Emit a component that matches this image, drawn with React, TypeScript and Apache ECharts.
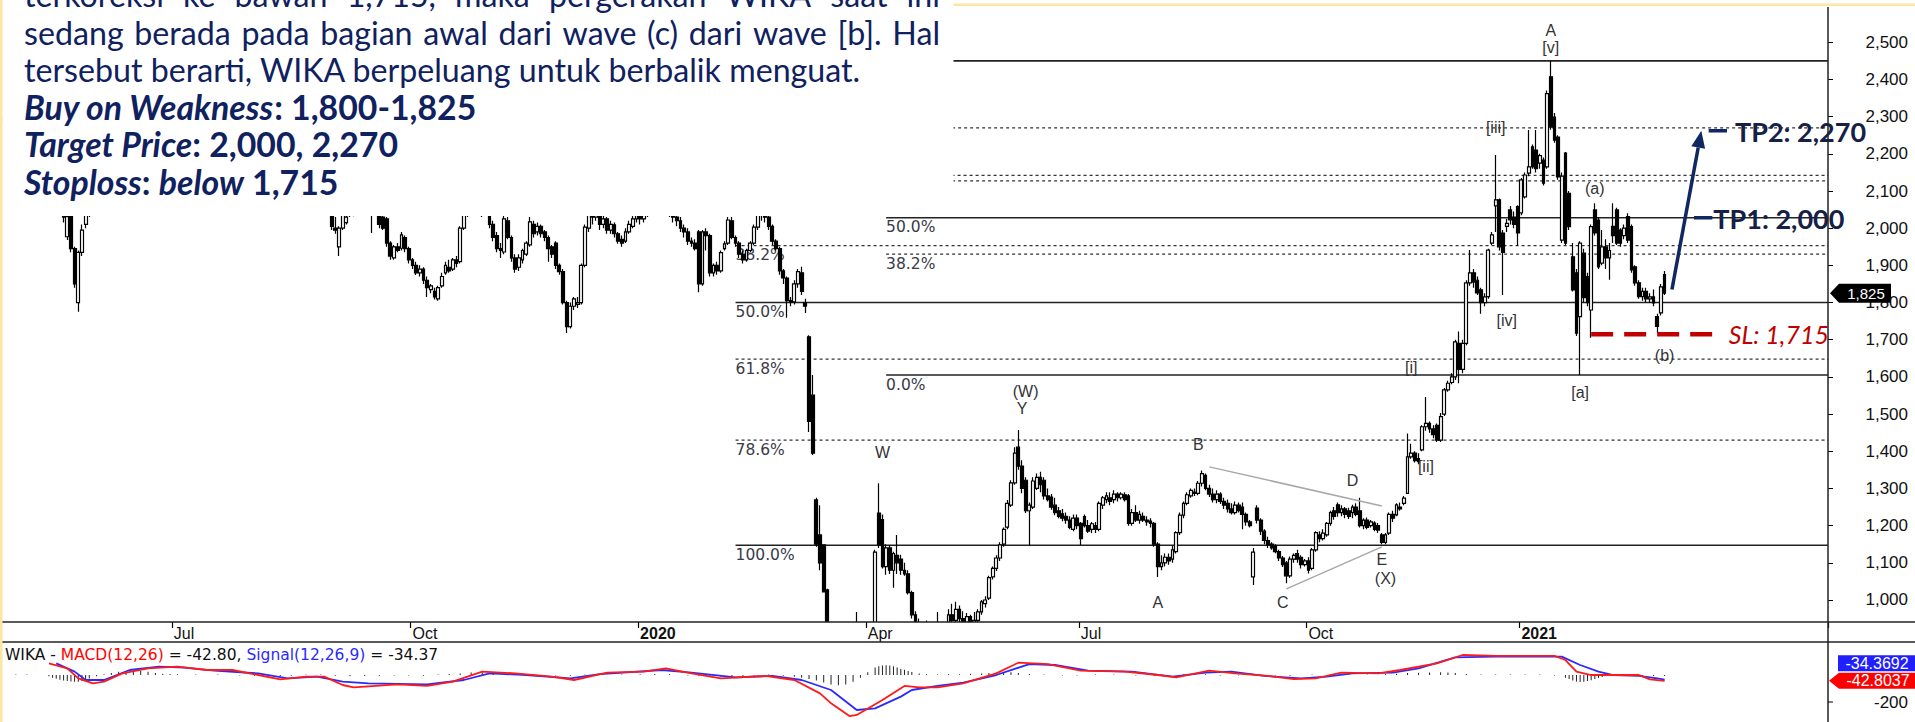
import React, { useEffect, useRef } from 'react';
import * as echarts from 'echarts';

// ---------------- calendar (trading days per month) ----------------
const monthTradingDays: [string, number][] = [
  ['2019-04', 10], ['2019-05', 21], ['2019-06', 15], ['2019-07', 23], ['2019-08', 21], ['2019-09', 21],
  ['2019-10', 23], ['2019-11', 21], ['2019-12', 18], ['2020-01', 21], ['2020-02', 20], ['2020-03', 21],
  ['2020-04', 21], ['2020-05', 15], ['2020-06', 22], ['2020-07', 22], ['2020-08', 19], ['2020-09', 21],
  ['2020-10', 20], ['2020-11', 21], ['2020-12', 17], ['2021-01', 20], ['2021-02', 19], ['2021-03', 1],
];
const futureSlots = 44;

// ---------------- daily candles [open, close, low, high] ----------------
const candlesAprJun2019 = [
  [2300,2280,2260,2320],[2280,2250,2230,2290],[2250,2270,2240,2290],[2270,2230,2210,2280],[2230,2200,2180,2240],
  [2200,2220,2190,2240],[2220,2180,2160,2230],[2180,2150,2130,2190],[2150,2170,2140,2190],[2170,2130,2110,2180],
  [2130,2100,2080,2140],[2100,2120,2090,2140],[2120,2090,2070,2130],[2090,2070,2050,2100],[2070,2085,2055,2095],
  [2080,2045,2035,2090],[2045,2030,2015,2060],[1977,2031,1968,2040],[2040,1945,1935,2050],[1945,1850,1840,1950],
  [1800,1935,1775,1940],[1935,1995,1925,2010],[2010,2035,2000,2050],[2040,2060,2030,2080],
  [2060,2090,2050,2100],[2090,2120,2080,2130],[2120,2110,2095,2140],[2110,2150,2100,2160],[2150,2180,2140,2190],
  [2180,2160,2150,2200],[2160,2200,2150,2210],[2200,2230,2190,2240],[2230,2210,2200,2250],[2210,2250,2200,2260],
  [2250,2280,2240,2290],[2280,2260,2250,2300],[2260,2300,2250,2310],[2300,2330,2290,2340],[2330,2310,2300,2350],
  [2310,2340,2300,2360],[2340,2370,2330,2380],[2370,2350,2340,2390],[2350,2380,2340,2400],[2380,2360,2350,2400],
  [2360,2390,2350,2410],[2390,2400,2380,2420],
];
const candlesJulSep2019 = [
  [2400,2420,2390,2440],[2420,2440,2410,2450],[2440,2410,2400,2450],[2410,2380,2370,2420],[2380,2400,2370,2420],
  [2400,2360,2350,2410],[2360,2330,2320,2370],[2330,2350,2320,2360],[2350,2320,2300,2360],[2320,2290,2280,2330],
  [2290,2300,2280,2320],[2300,2270,2260,2310],[2270,2240,2230,2280],[2240,2260,2230,2270],[2260,2230,2220,2270],
  [2230,2200,2190,2240],[2200,2220,2190,2230],[2220,2190,2180,2230],[2190,2160,2150,2200],[2160,2180,2150,2190],
  [2180,2200,2170,2210],[2200,2180,2170,2210],[2180,2210,2170,2220],[2210,2190,2180,2220],[2190,2160,2150,2200],
  [2160,2140,2130,2170],[2140,2150,2130,2160],[2150,2120,2110,2160],[2120,2100,2090,2130],[2100,2110,2090,2120],
  [2110,2090,2080,2120],[2090,2070,2060,2100],[2070,2080,2060,2090],[2080,2060,2050,2090],[2060,2070,2050,2080],
  [2070,2050,2045,2080],[2050,2060,2045,2070],[2060,2055,2045,2070],[2055,2065,2050,2075],[2065,2060,2050,2080],
  [2060,2070,2055,2080],[2070,2060,2050,2080],[2060,2050,2040,2070],[2050,2005,1995,2060],[2000,1995,1985,2030],
  [1950,2000,1925,2005],[2000,2040,1995,2050],[2015,2030,2010,2045],[2040,2060,2030,2070],[2050,2040,2032,2060],
  [2045,2070,2040,2080],[2070,2090,2060,2100],[2090,2080,2070,2100],[2080,2060,2050,2090],[2060,2040,1987,2070],
  [2045,2050,2035,2060],[2045,2010,2000,2050],[2030,2000,1995,2040],[2025,1960,1950,2030],[1960,1925,1915,1965],
  [1920,1950,1915,1955],[1950,1940,1935,1960],[1946,1982,1940,1990],[1975,1945,1935,1980],[1945,1915,1905,1950],
];
const candlesOctDec2019 = [
  [1915,1900,1890,1920],[1900,1880,1874,1910],[1880,1890,1870,1900],[1890,1860,1850,1895],[1860,1840,1815,1870],
  [1835,1845,1825,1850],[1830,1815,1808,1840],[1810,1840,1805,1845],[1845,1870,1840,1880],[1880,1900,1875,1910],
  [1895,1885,1880,1915],[1890,1915,1885,1920],[1915,1905,1895,1925],[1910,2000,1905,2005],[2000,2040,1995,2050],
  [2040,2070,2030,2080],[2070,2060,2040,2090],[2060,2090,2050,2100],[2090,2080,2070,2100],[2080,2045,2030,2090],
  [2050,2070,2040,2080],[2060,2010,2000,2070],[2010,1975,1965,2020],[1980,1945,1935,1990],[1945,1940,1920,1960],
  [1936,2025,1930,2035],[2020,1975,1970,2030],[1975,1920,1910,1980],[1920,1890,1880,1930],[1895,1920,1885,1930],
  [1915,1940,1905,1945],[1930,1960,1925,1965],[1955,2017,1950,2030],[2010,1985,1975,2020],[1990,2005,1980,2015],
  [2005,1985,1975,2010],[1990,1975,1965,1995],[1975,1945,1910,1980],[1950,1930,1920,1955],[1960,1900,1890,1965],
  [1900,1883,1875,1905],[1883,1800,1795,1890],[1800,1735,1718,1805],[1735,1790,1730,1800],[1790,1810,1780,1815],
  [1795,1800,1785,1815],[1800,1900,1795,1905],[1900,2003,1895,2010],[2000,2040,1990,2055],[2040,2030,2010,2050],
  [2030,2050,2020,2060],[2040,2010,1995,2050],[2010,2025,2000,2035],[2025,1995,1985,2030],[1995,2010,1985,2020],
  [2009,1985,1975,2015],[1985,1965,1958,1990],[1970,1960,1950,1980],[1965,1990,1960,2000],[1990,2010,1985,2020],
  [2005,2025,2000,2035],[2025,2040,2015,2050],
];
const candlesJanMar2020 = [
  [2040,2025,2010,2050],[2025,2040,2015,2055],[2040,2060,2030,2070],[2060,2050,2040,2080],[2050,2070,2045,2090],
  [2070,2080,2060,2100],[2080,2060,2050,2090],[2060,2050,2040,2070],[2050,2040,2030,2060],[2040,2030,2015,2050],
  [2030,2020,2005,2040],[2020,2000,1990,2030],[2000,1990,1975,2010],[1990,1965,1955,2000],[1965,1960,1950,1975],
  [1960,1945,1940,1970],[1990,1850,1828,1995],[1850,1990,1845,1995],[1990,1980,1940,2000],[1980,1880,1870,1985],
  [1880,1900,1870,1905],[1900,1885,1875,1910],[1885,1934,1880,1940],[1945,1958,1940,1965],[1960,2022,1955,2030],
  [2020,1975,1970,2030],[1975,1960,1950,1980],[1960,1930,1920,1965],[1930,1915,1905,1940],[1915,1940,1910,1945],
  [1940,1960,1935,1965],[1960,2003,1955,2010],[2003,2035,1995,2045],[2035,2040,2020,2050],[2040,2030,2015,2050],
  [2030,2005,1995,2035],[2005,1965,1955,2010],[1965,1945,1940,1970],[1945,1885,1875,1950],[1885,1866,1850,1890],
  [1866,1805,1759,1870],[1805,1802,1790,1815],[1802,1850,1795,1860],[1850,1883,1840,1890],[1880,1830,1820,1896],
  [1800,1790,1772,1810],[1708,1480,1452,1712],[1551,1395,1390,1605],[1269,1150,1143,1275],[1175,1100,1080,1255],
  [1148,1022,1020,1150],[1027,935,900,1030],[930,870,850,940],[870,800,780,900],[800,760,740,820],
  [760,720,700,790],[720,700,690,760],[700,740,690,760],[740,780,730,800],[780,760,740,968],
  [760,800,750,820],[800,830,790,850],
];
const candlesAprJun2020 = [
  [830,860,800,870],[860,900,850,930],[900,1129,890,1135],[1234,1148,1140,1314],[1216,1090,1085,1230],
  [1090,1140,1068,1150],[1140,1080,1070,1148],[1080,1125,1033,1130],[1120,1100,1070,1175],[1110,1080,1068,1122],
  [1080,1070,1065,1100],[1070,1020,1015,1080],[1020,960,950,1025],[960,930,920,970],[930,900,880,950],
  [900,920,890,940],[920,895,880,945],[895,880,860,915],[880,900,870,920],[900,920,890,968],
  [920,900,880,930],[900,910,880,935],[910,960,900,975],[960,945,935,990],[945,975,940,995],
  [975,950,940,985],[950,940,930,970],[940,955,925,965],[955,930,915,960],[930,945,920,968],
  [945,968,940,975],[968,995,960,1000],[990,1000,980,1010],[1005,1060,1000,1065],[1062,1085,1055,1090],
  [1085,1113,1078,1120],[1113,1148,1105,1155],[1150,1190,1143,1195],[1196,1260,1190,1269],[1255,1315,1250,1322],
  [1315,1395,1310,1411],[1411,1360,1350,1457],[1360,1300,1287,1376],[1322,1240,1234,1330],[1240,1255,1148,1262],
  [1250,1320,1245,1330],[1300,1330,1296,1340],[1330,1310,1290,1345],[1322,1280,1270,1330],[1280,1270,1265,1300],
  [1277,1250,1243,1285],[1255,1235,1228,1275],[1240,1225,1220,1250],[1232,1220,1212,1245],[1225,1215,1205,1235],
  [1215,1195,1190,1225],[1190,1220,1185,1230],[1220,1200,1190,1230],
];
const candlesJulSep2020 = [
  [1206,1165,1148,1210],[1224,1200,1195,1230],[1200,1185,1180,1215],[1190,1205,1180,1210],[1200,1190,1180,1210],
  [1190,1260,1185,1265],[1255,1275,1245,1280],[1270,1280,1260,1290],[1275,1265,1255,1290],[1270,1285,1260,1295],
  [1285,1275,1265,1290],[1275,1285,1270,1290],[1283,1270,1265,1290],[1280,1206,1200,1285],[1206,1235,1200,1245],
  [1235,1215,1210,1255],[1215,1230,1205,1240],[1225,1215,1210,1235],[1215,1210,1200,1225],[1212,1206,1195,1220],
  [1206,1150,1143,1210],[1150,1090,1062,1155],[1090,1100,1080,1120],[1100,1115,1090,1125],[1115,1105,1095,1125],
  [1110,1135,1100,1145],[1130,1181,1125,1185],[1181,1228,1175,1235],[1228,1260,1220,1265],[1260,1283,1255,1290],
  [1280,1295,1275,1300],[1290,1287,1280,1300],[1287,1314,1282,1320],[1314,1340,1305,1348],[1335,1300,1295,1340],
  [1300,1285,1277,1310],[1285,1270,1262,1300],[1270,1285,1260,1295],[1285,1265,1258,1290],[1265,1255,1245,1275],
  [1260,1245,1235,1270],[1245,1235,1230,1260],[1235,1255,1230,1265],[1255,1240,1235,1262],[1250,1230,1190,1262],
  [1230,1210,1200,1235],[1210,1200,1195,1215],[1062,1129,1040,1140],[1247,1215,1206,1255],[1215,1185,1175,1220],
  [1185,1160,1150,1190],[1160,1148,1140,1170],[1150,1140,1135,1155],[1145,1130,1126,1150],[1130,1113,1105,1135],
  [1113,1095,1089,1118],[1100,1065,1045,1105],[1065,1110,1060,1117],[1110,1120,1100,1125],[1125,1110,1100,1135],
  [1115,1095,1085,1120],[1095,1105,1090,1110],
];
const candlesOctDec2020 = [
  [1105,1080,1071,1115],[1085,1135,1080,1140],[1135,1181,1130,1185],[1175,1165,1155,1185],[1165,1180,1160,1190],
  [1175,1206,1170,1210],[1206,1235,1200,1240],[1240,1225,1216,1250],[1256,1235,1224,1262],[1235,1245,1225,1255],
  [1245,1230,1220,1250],[1240,1225,1218,1248],[1235,1250,1220,1256],[1250,1230,1225,1260],[1240,1200,1195,1275],
  [1200,1215,1190,1220],[1215,1195,1190,1222],[1200,1210,1195,1215],[1207,1190,1185,1212],[1200,1188,1180,1207],
  [1175,1155,1150,1180],[1155,1175,1150,1180],[1180,1230,1175,1235],[1230,1220,1210,1240],[1229,1256,1225,1260],
  [1250,1245,1240,1262],[1260,1274,1255,1280],[1287,1385,1285,1448],[1385,1395,1380,1420],[1395,1375,1370,1400],
  [1380,1372,1365,1395],[1404,1466,1400,1470],[1466,1475,1455,1546],[1475,1460,1450,1480],[1460,1445,1435,1470],
  [1470,1430,1425,1475],[1430,1493,1425,1503],[1500,1565,1495,1570],[1565,1583,1560,1590],[1585,1600,1580,1610],
  [1600,1694,1592,1700],[1690,1620,1583,1722],[1620,1690,1610,1700],[1690,1853,1685,1860],[1853,1880,1845,1941],
  [1880,1855,1840,1890],[1860,1826,1820,1870],[1834,1800,1770,1840],[1800,1815,1790,1825],[1816,1941,1810,1945],
  [1960,1982,1955,1990],[2060,2076,1990,2197],[2076,1950,1940,2080],[1987,1935,1820,1995],[2005,2013,1990,2025],
  [2049,2022,2010,2060],[2030,2010,2000,2045],[2058,1987,1953,2062],
];
const candlesJanMar2021 = [
  [2041,2130,2035,2135],[2084,2143,2080,2150],[2148,2165,2140,2264],[2219,2165,2160,2225],[2210,2160,2150,2264],
  [2175,2195,2160,2200],[2183,2121,2115,2190],[2165,2362,2160,2370],[2407,2272,2265,2450],[2299,2237,2230,2310],
  [2245,2138,2130,2250],[1968,2140,1960,2150],[2202,1960,1955,2205],[2094,2004,1995,2100],[1923,1834,1830,1960],
  [1880,1718,1710,1890],[1762,1960,1605,1965],[1933,1813,1800,1945],[1870,1800,1790,1880],[1780,2004,1705,2010],
  [2049,1987,1980,2067],[2022,1896,1890,2030],[1906,1950,1900,1995],[1950,1920,1890,1970],[1920,1940,1861,1960],
  [2005,1980,1960,2067],[2049,1960,1955,2055],[1995,1960,1950,2000],[1980,2000,1970,2010],[2031,1968,1960,2040],
  [2004,1888,1880,2010],[1896,1853,1845,1900],[1853,1816,1810,1860],[1816,1830,1805,1840],[1830,1810,1800,1840],
  [1810,1815,1800,1825],[1815,1799,1790,1835],[1762,1736,1718,1770],[1772,1842,1765,1850],[1875,1825,1820,1885],
];

// ---------------- MACD (day index, value) ----------------
const macdLine: [number, number][] = [
  [12,86],[17,49],[20,-25],[24,-62],[27,-49],[32,12],[39,49],[47,62],[55,37],[62,37],[69,0],[75,-32],[82,-12],
  [87,-12],[92,-74],[95,-91],[107,-69],[115,-81],[122,-49],[130,25],[139,12],[149,-12],[155,-37],[164,17],
  [174,25],[180,49],[187,12],[195,-25],[207,-7],[215,-37],[222,-136],[225,-210],[230,-304],[232,-296],
  [239,-185],[245,-81],[249,-91],[254,-91],[261,-62],[270,12],[276,91],[284,81],[293,32],[305,25],[314,0],
  [319,-17],[328,32],[335,12],[344,-7],[351,-30],[357,-25],[364,17],[374,12],[380,37],[390,86],[397,148],
  [406,141],[422,141],[425,111],[428,25],[432,0],[438,0],[445,0],[448,-32],[452,-43],
];
const signalLine: [number, number][] = [
  [14,86],[19,25],[22,-37],[27,-37],[34,37],[42,62],[49,54],[57,32],[69,12],[77,-25],[85,-12],[92,-49],
  [99,-62],[115,-69],[125,-37],[132,12],[142,0],[154,-25],[162,7],[179,37],[187,17],[199,-17],[209,-7],
  [217,-37],[225,-111],[232,-259],[237,-247],[244,-160],[247,-111],[254,-81],[261,-57],[270,0],[279,81],
  [286,74],[295,32],[307,25],[318,-12],[327,17],[334,25],[343,-7],[353,-25],[360,-12],[367,12],[378,17],
  [385,49],[395,131],[406,136],[424,136],[429,74],[434,25],[438,0],[445,-7],[450,-25],[452,-34],
];
const macdHistogram: [number, number][] = [
  [3,4],[6,4],[12,-10],[13,-20],[14,-28],[15,-35],[16,-40],[17,-45],[18,-48],[19,-50],[20,-50],[21,-45],
  [22,-35],[23,-25],[25,-10],[27,5],[29,15],[31,25],[33,30],[35,35],[37,30],[39,25],[41,15],[43,10],[45,8],
  [47,6],[52,4],[58,4],[64,-4],[68,-6],[72,-8],[75,-10],[78,-6],[82,4],[86,4],[90,-6],[94,-10],[98,-8],
  [102,-6],[106,-4],[110,-4],[114,-6],[118,4],[121,8],[124,12],[127,18],[130,20],[133,15],[136,10],[140,6],
  [144,4],[150,-4],[154,-6],[158,4],[163,6],[168,4],[173,6],[177,8],[181,6],[186,-4],[189,-8],[192,-10],
  [195,-12],[198,-10],[201,-8],[204,-4],[208,4],[212,-6],[215,-12],[217,-20],[219,-30],[221,-40],[223,-55],
  [225,-70],[227,-75],[229,-70],[231,-50],[233,-20],[235,20],[237,55],[238,65],[239,70],[240,72],[241,70],
  [242,65],[243,55],[244,45],[245,38],[246,30],[247,22],[249,12],[251,6],[254,4],[257,6],[260,6],[263,10],
  [266,12],[268,15],[270,18],[272,22],[274,20],[276,15],[279,8],[283,4],[288,-4],[292,-4],[297,4],[302,4],
  [308,-4],[313,-6],[317,-6],[321,4],[324,8],[327,6],[331,-4],[336,-4],[341,-6],[346,-4],[350,-6],[356,4],
  [361,6],[366,4],[371,4],[376,6],[379,10],[382,14],[385,16],[388,18],[391,20],[393,18],[395,14],[398,8],
  [402,4],[406,4],[410,4],[414,4],[418,4],[422,-4],[425,-20],[426,-30],[427,-40],[428,-48],[429,-52],
  [430,-50],[431,-45],[432,-38],[433,-30],[434,-22],[435,-15],[437,-8],[440,-4],[443,-4],[446,-6],[449,-8],[452,-8],
];

// ---------------- axes ----------------
const priceTicks = [1000,1100,1200,1300,1400,1500,1600,1700,1800,1900,2000,2100,2200,2300,2400,2500];
const priceMin = 940.8;
const priceMax = 2594.9;
const macdTicks = [-200];
const macdMin = -348;
const macdMax = 244.4;
const lastPrice = 1825;
const lastMacd = -42.8037;
const lastSignal = -34.3692;

// ---------------- annotations ----------------
const fibLeftStart = 199;
const fibLeftLevels = [2450, 2142, 1953, 1800, 1648, 1430, 1147];
const fibLeftNames = ['0.0%', '23.6%', '38.2%', '50.0%', '61.8%', '78.6%', '100.0%'];
const fibRightStart = 240;
const fibRightLevels = [1605, 1930, 2028, 2127, 2270, 2450];
const fibRightNames = ['0.0%', '38.2%', '50.0%', '61.8%', '78.6%', '100.0%'];
const solidFibNames = ['0.0%', '50.0%', '100.0%'];

const waveLabels: [number, number, string][] = [
  [421, 2533, 'A'], [421, 2485, '[v]'], [406, 2270, '[iii]'], [433, 2108, '(a)'], [409, 1751, '[iv]'],
  [452, 1657, '(b)'], [383, 1624, '[i]'], [429, 1557, '[a]'], [387, 1358, '[ii]'], [278, 1560, '(W)'],
  [277, 1514, 'Y'], [325, 1418, 'B'], [367, 1321, 'D'], [375, 1108, 'E'], [376, 1059, '(X)'],
  [314, 993, 'A'], [348, 993, 'C'], [239, 1396, 'W'],
];
const triangleUpper: [number, number][] = [[328, 1358], [375, 1253]];
const triangleLower: [number, number][] = [[349, 1030], [375, 1143]];
const targetArrow: [number, number][] = [[454, 1835], [462, 2262]];
const targets = [
  { text: 'TP1: 2,000', level: 2028, from: 460, to: 465 },
  { text: 'TP2: 2,270', level: 2262, from: 464, to: 469 },
];
const stopLoss = { text: 'SL: 1,715', level: 1715, from: 432, to: 467 };

const bodyLines = [
  'terkoreksi ke bawah 1,715, maka pergerakan WIKA saat ini',
  'sedang berada pada bagian awal dari wave (c) dari wave [b]. Hal',
  'tersebut berarti, WIKA berpeluang untuk berbalik menguat.',
];
const planLines: [string, boolean][][] = [
  [['Buy on Weakness', true], [': 1,800-1,825', false]],
  [['Target Price', true], [': 2,000, 2,270', false]],
  [['Stoploss', true], [': ', false], ['below', true], [' 1,715', false]],
];

// ---------------- build ----------------
const categories: string[] = [];
const quarterStart = new Set<number>();
monthTradingDays.forEach(([ym, n]) => {
  for (let k = 0; k < n; k++) {
    const idx = categories.length;
    const m = +ym.slice(5, 7);
    if (k === 0 && idx > 0 && m % 3 === 1) quarterStart.add(idx);
    categories.push(`${ym}-${String(k + 1).padStart(2, '0')}`);
  }
});
for (let k = 0; k < futureSlots; k++) categories.push(`blank-${k}`);
const N = categories.length;

const candles = [
  ...candlesAprJun2019, ...candlesJulSep2019, ...candlesOctDec2019, ...candlesJanMar2020,
  ...candlesAprJun2020, ...candlesJulSep2020, ...candlesOctDec2020, ...candlesJanMar2021,
].map(([o, c, l, h]) => [o, c, Math.min(l, o, c), Math.max(h, o, c)]);

const monthNames = ['', 'Jan', 'Feb', 'Mar', 'Apr', 'May', 'Jun', 'Jul', 'Aug', 'Sep', 'Oct', 'Nov', 'Dec'];
const AX_FONT = 'Liberation Sans, Arial, sans-serif';
const WIDE_FONT = 'DejaVu Sans, Verdana, sans-serif';

function buildOption(): any {
  const showQ = (index: number) => quarterStart.has(index);
  return {
    animation: false,
    backgroundColor: '#ffffff',
    grid: [
      { left: 3, top: 7, width: 1825, height: 615 },
      { left: 3, top: 642, width: 1825, height: 80 },
    ],
    xAxis: [
      {
        type: 'category', gridIndex: 0, data: categories, boundaryGap: true, z: 5,
        axisLine: { show: false },
        axisTick: { show: true, interval: showQ, length: 6, lineStyle: { color: '#000', width: 1.2 } },
        axisLabel: {
          show: true, interval: showQ, align: 'left', margin: 3, fontSize: 16, color: '#111', fontFamily: AX_FONT,
          formatter: (v: string) => {
            const m = +v.slice(5, 7);
            return m === 1 ? `{y|${v.slice(0, 4)}}` : monthNames[m];
          },
          rich: { y: { fontWeight: 'bold', fontSize: 16, color: '#111', fontFamily: AX_FONT } },
        },
        splitLine: { show: false },
      },
      { type: 'value', gridIndex: 1, min: -0.5, max: N - 0.5, show: false },
    ],
    yAxis: [
      {
        type: 'value', gridIndex: 0, position: 'right', min: priceMin, max: priceMax, z: 5,
        splitLine: { show: false }, axisLine: { show: false },
        axisTick: { show: true, customValues: priceTicks, length: 5, lineStyle: { color: '#000' } },
        axisLabel: {
          customValues: priceTicks, align: 'right', margin: 80, fontSize: 17, color: '#111', fontFamily: AX_FONT,
          formatter: (v: number) => v.toLocaleString('en-US'),
        },
      },
      {
        type: 'value', gridIndex: 1, position: 'right', min: macdMin, max: macdMax, show: false,
        splitLine: { show: false }, axisLine: { show: false }, axisTick: { show: false }, axisLabel: { show: false },
      },
    ],
    series: [
      {
        type: 'candlestick', xAxisIndex: 0, yAxisIndex: 0, data: candles, barWidth: 3.3, clip: true, silent: true, z: 1,
        itemStyle: { color: '#ffffff', color0: '#000000', borderColor: '#000000', borderColor0: '#000000', borderWidth: 1.2 },
      },
      {
        type: 'bar', xAxisIndex: 1, yAxisIndex: 1, data: macdHistogram, barWidth: 1, silent: true, z: 3,
        itemStyle: { color: '#222' },
      },
      {
        type: 'line', xAxisIndex: 1, yAxisIndex: 1, data: signalLine, showSymbol: false, silent: true, z: 3,
        lineStyle: { color: '#2a2aff', width: 1.8 },
      },
      {
        type: 'line', xAxisIndex: 1, yAxisIndex: 1, data: macdLine, showSymbol: false, silent: true, z: 3,
        lineStyle: { color: '#ff1a1a', width: 1.8 },
      },
    ],
  };
}

function buildGraphics(chart: any): any[] {
  const P = (i: number, v: number) => chart.convertToPixel({ gridIndex: 0 }, [i, v]) as number[];
  const MY = (v: number) => (chart.convertToPixel({ gridIndex: 1 }, [0, v]) as number[])[1];
  const axisX = 1828;
  const g: any[] = [];

  // cover candles that overflow below the price pane (date strip + MACD pane background)
  g.push({ type: 'rect', z: 1.5, shape: { x: 0, y: 622, width: axisX, height: 100 }, style: { fill: '#ffffff' } });

  // borders
  g.push({ type: 'rect', z: 0.5, shape: { x: 0, y: 3.5, width: 1915, height: 2.5 }, style: { fill: '#FCE6A2' } });
  g.push({ type: 'rect', z: 90, shape: { x: 0, y: 0, width: 2.5, height: 722 }, style: { fill: '#FCE6A2' } });
  const frame = (x1: number, y1: number, x2: number, y2: number) =>
    g.push({ type: 'line', z: 20, shape: { x1, y1, x2, y2 }, style: { stroke: '#222', lineWidth: 1.5 } });
  frame(2, 622, 1915, 622);
  frame(2, 642, 1915, 642);
  frame(axisX, 7, axisX, 722);

  // MACD axis tick labels
  macdTicks.forEach((v) => {
    const y = MY(v);
    g.push({ type: 'line', z: 20, shape: { x1: axisX, y1: y, x2: axisX + 5, y2: y }, style: { stroke: '#000', lineWidth: 1 } });
    g.push({ type: 'text', z: 20, x: 1908, y, style: { text: String(v), fill: '#111', font: `17px ${AX_FONT}`, align: 'right', verticalAlign: 'middle' } });
  });

  // fibonacci levels
  const fib = (start: number, levels: number[], names: string[]) => {
    levels.forEach((lv, k) => {
      const [x1, y] = P(start, lv);
      const solid = solidFibNames.includes(names[k]);
      g.push({
        type: 'line', z: 0.5, shape: { x1, y1: y, x2: axisX, y2: y },
        style: { stroke: solid ? '#222' : '#333', lineWidth: solid ? 1.5 : 1.3, lineDash: solid ? null : [3, 3] },
      });
      g.push({
        type: 'text', z: 0.5, x: x1, y: y + 9.5,
        style: { text: names[k], fill: '#3a3a48', font: `15.5px ${WIDE_FONT}`, align: 'left', verticalAlign: 'middle' },
      });
    });
  };
  fib(fibLeftStart, fibLeftLevels, fibLeftNames);
  fib(fibRightStart, fibRightLevels, fibRightNames);

  // triangle trend lines
  [triangleUpper, triangleLower].forEach((seg) => {
    const a = P(seg[0][0], seg[0][1]);
    const b = P(seg[1][0], seg[1][1]);
    g.push({ type: 'line', z: 4, shape: { x1: a[0], y1: a[1], x2: b[0], y2: b[1] }, style: { stroke: '#a8a8a8', lineWidth: 1.5 } });
  });

  // wave labels
  waveLabels.forEach(([i, v, t]) => {
    const [x, y] = P(i, v);
    g.push({ type: 'text', z: 6, x, y, style: { text: t, fill: '#333', font: `16px ${AX_FONT}`, align: 'center', verticalAlign: 'middle' } });
  });

  // stop loss
  {
    const [x1, y] = P(stopLoss.from, stopLoss.level);
    const [x2] = P(stopLoss.to, stopLoss.level);
    g.push({ type: 'line', z: 6, shape: { x1, y1: y, x2, y2: y }, style: { stroke: '#C00000', lineWidth: 4.5, lineDash: [22, 11] } });
    g.push({ type: 'text', z: 6, x: x2 + 9, y, style: { text: stopLoss.text, fill: '#C00000', font: 'italic 25px Lato', align: 'left', verticalAlign: 'middle' } });
  }

  // target arrow
  const navy = '#102762';
  {
    const a = P(targetArrow[0][0], targetArrow[0][1]);
    const b = P(targetArrow[1][0], targetArrow[1][1]);
    const dx = b[0] - a[0], dy = b[1] - a[1];
    const len = Math.hypot(dx, dy);
    const ux = dx / len, uy = dy / len;
    const bx = b[0] - ux * 17, by = b[1] - uy * 17;
    g.push({ type: 'line', z: 7, shape: { x1: a[0], y1: a[1], x2: bx, y2: by }, style: { stroke: navy, lineWidth: 3.5 } });
    g.push({
      type: 'polygon', z: 7,
      shape: { points: [[b[0], b[1]], [bx - uy * 7, by + ux * 7], [bx + uy * 7, by - ux * 7]] },
      style: { fill: navy },
    });
  }
  targets.forEach((tp, k) => {
    const [x1, y] = P(tp.from, tp.level);
    const [x2] = P(tp.to, tp.level);
    g.push({ type: 'line', z: 7, shape: { x1, y1: y, x2, y2: y }, style: { stroke: navy, lineWidth: 3.5 } });
    g.push({
      type: 'text', z: 7, x: x2 + (k === 0 ? 1 : 8), y: y + 1,
      style: { text: tp.text, fill: '#152046', font: 'bold 27px Lato', align: 'left', verticalAlign: 'middle' },
    });
  });

  // last price tag
  {
    const y = P(0, lastPrice)[1];
    g.push({
      type: 'polygon', z: 30,
      shape: { points: [[1830, y], [1839, y - 9.5], [1891, y - 9.5], [1891, y + 9.5], [1839, y + 9.5]] },
      style: { fill: '#000' },
    });
    g.push({ type: 'text', z: 31, x: 1866, y, style: { text: lastPrice.toLocaleString('en-US'), fill: '#fff', font: `15px ${AX_FONT}`, align: 'center', verticalAlign: 'middle' } });
  }
  // macd tags
  {
    const yR = MY(lastMacd);
    const yB = yR - 17.5;
    g.push({ type: 'rect', z: 30, shape: { x: 1838, y: yB - 8, width: 77, height: 16 }, style: { fill: '#1f1fff' } });
    g.push({ type: 'text', z: 31, x: 1877, y: yB, style: { text: String(lastSignal), fill: '#fff', font: `16px ${AX_FONT}`, align: 'center', verticalAlign: 'middle' } });
    g.push({
      type: 'polygon', z: 30,
      shape: { points: [[1829, yR], [1839, yR - 8], [1915, yR - 8], [1915, yR + 8], [1839, yR + 8]] },
      style: { fill: '#ff0000' },
    });
    g.push({ type: 'text', z: 31, x: 1878, y: yR, style: { text: String(lastMacd), fill: '#fff', font: `16px ${AX_FONT}`, align: 'center', verticalAlign: 'middle' } });
  }

  // MACD title
  {
    const parts: [string, string][] = [
      ['WIKA - ', '#111'], ['MACD(12,26)', '#ff0000'], [` = ${lastMacd.toFixed(2)}, `, '#111'],
      ['Signal(12,26,9)', '#2a2aff'], [` = ${lastSignal.toFixed(2)}`, '#111'],
    ];
    const ctx = document.createElement('canvas').getContext('2d')!;
    const f = `15.5px ${WIDE_FONT}`;
    ctx.font = f;
    let x = 5;
    parts.forEach(([t, c]) => {
      g.push({ type: 'text', z: 25, x, y: 655, style: { text: t, fill: c, font: f, align: 'left', verticalAlign: 'middle' } });
      x += ctx.measureText(t).width;
    });
  }

  // commentary box
  g.push({ type: 'rect', z: 50, shape: { x: 2.5, y: 0, width: 951, height: 216 }, style: { fill: '#ffffff' } });
  {
    const ctx = document.createElement('canvas').getContext('2d')!;
    const measure = (t: string, font: string) => { ctx.font = font; return ctx.measureText(t).width; };
    const fs = Math.round((839 / measure(bodyLines[2], '100px Lato')) * 1000) / 10;
    const fsBold = Math.round(fs * 1.05 * 10) / 10;
    const color = '#0F215E';
    const left = 24, right = 940;
    const baselines = [5.5, 43, 80.5, 118, 155.5, 193];
    const mid = (b: number, s: number) => b - 0.34 * s;
    const reg = `${fs}px Lato`;
    [0, 1].forEach((li) => {
      const words = bodyLines[li].split(' ');
      const ws = words.map((w) => measure(w, reg));
      const gap = (right - left - ws.reduce((a, b) => a + b, 0)) / (words.length - 1);
      let x = left;
      words.forEach((w, k) => {
        g.push({ type: 'text', z: 51, x, y: mid(baselines[li], fs), style: { text: w, fill: color, font: reg, align: 'left', verticalAlign: 'middle' } });
        x += ws[k] + gap;
      });
    });
    g.push({ type: 'text', z: 51, x: left, y: mid(baselines[2], fs), style: { text: bodyLines[2], fill: color, font: reg, align: 'left', verticalAlign: 'middle' } });
    planLines.forEach((segs, k) => {
      let x = left;
      segs.forEach(([t, it]) => {
        const font = `${it ? 'italic ' : ''}bold ${fsBold}px Lato`;
        g.push({ type: 'text', z: 51, x, y: mid(baselines[3 + k], fsBold), style: { text: t, fill: color, font, align: 'left', verticalAlign: 'middle' } });
        x += measure(t, font);
      });
    });
  }
  return g;
}

export default function App() {
  const ref = useRef<HTMLDivElement>(null);
  useEffect(() => {
    const el = ref.current;
    if (!el) return;
    const chart = echarts.init(el, null, { renderer: 'svg' });
    chart.setOption(buildOption());
    chart.setOption({ graphic: buildGraphics(chart) });
    return () => chart.dispose();
  }, []);
  return (
    <div
      ref={ref}
      style={{ position: 'fixed', left: 0, top: 0, width: 1915, height: 722, background: '#ffffff' }}
    />
  );
}
